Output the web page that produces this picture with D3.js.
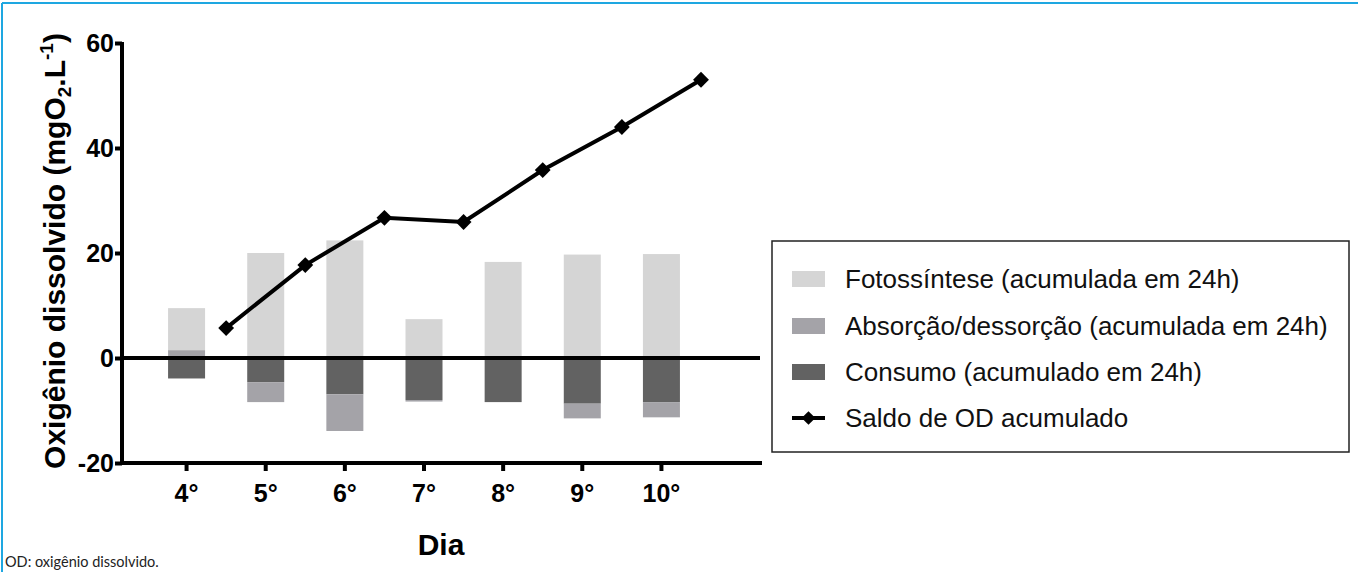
<!DOCTYPE html>
<html>
<head>
<meta charset="utf-8">
<script src="https://cdn.jsdelivr.net/npm/d3@7"></script>
<style>
body{margin:0;background:#fff;}
svg{display:block;}
</style>
</head>
<body>
<div id="chart"></div>
<script>
// dados (mgO2.L-1)
var days = ["4°","5°","6°","7°","8°","9°","10°"];
var fotossintese = [8.0, 20.0, 22.4, 7.4, 18.3, 19.7, 19.8];
var absorcao = [1.5, -3.8, -7.0, -0.3, 0, -2.8, -2.9];
var consumo = [-3.9, -4.6, -6.9, -8.0, -8.4, -8.7, -8.4];
var saldo = [5.7, 17.7, 26.7, 25.9, 35.8, 44.0, 53.0];
var yTicks = [-20, 0, 20, 40, 60];

var seriesKeys = ["consumo","absorcao","fotossintese"];
var seriesNames = {
	fotossintese:"Fotossíntese (acumulada em 24h)",
	absorcao:"Absorção/dessorção (acumulada em 24h)",
	consumo:"Consumo (acumulado em 24h)"
};
var cols = {fotossintese:"#d5d5d5", absorcao:"#a4a3a8", consumo:"#626262"};

var W = 1358, H = 572;
var svg = d3.select("#chart").append("svg").attr("width",W).attr("height",H);

// moldura azul (topo e esquerda)
svg.append("line").attr("x1",2).attr("x2",W).attr("y1",3).attr("y2",3)
	.attr("stroke","#1ea7e1").attr("stroke-width",2);
svg.append("line").attr("x1",2).attr("x2",2).attr("y1",3).attr("y2",H)
	.attr("stroke","#1ea7e1").attr("stroke-width",2);

var x = d3.scaleBand().domain(days).range([147, 701]).padding(0);
var y = d3.scaleLinear().domain([-20, 60]).range([463, 43]);
var barW = 37;

var table = days.map(function(d,i){
	return {day:d, fotossintese:fotossintese[i], absorcao:absorcao[i], consumo:consumo[i]};
});
var stacked = d3.stack().keys(seriesKeys).offset(d3.stackOffsetDiverging)(table);

var bars = svg.append("g");
stacked.forEach(function(s){
	bars.selectAll("rect."+s.key).data(s).enter().append("rect").classed(s.key,true)
		.attr("x",function(d){return x(d.data.day) + x.bandwidth()/2 - barW/2})
		.attr("width",barW)
		.attr("y",function(d){return y(Math.max(d[0],d[1]))})
		.attr("height",function(d){return Math.abs(y(d[0]) - y(d[1]))})
		.attr("fill",cols[s.key]);
});

var font = "'Liberation Sans', Arial, sans-serif";
var lw = 4;

// eixo y
var yAxis = svg.append("g").attr("transform","translate(122,0)")
	.call(d3.axisLeft(y).tickValues(yTicks).tickSize(7).tickPadding(1).tickFormat(function(d){return String(d)}));
yAxis.select(".domain").attr("stroke","#000").attr("stroke-width",lw).attr("d","M0,"+(y(60)-1)+"V"+(y(-20)+2));
yAxis.selectAll(".tick line").attr("stroke","#000").attr("stroke-width",lw);
yAxis.selectAll(".tick text").attr("font-family",font).attr("font-weight","bold")
	.attr("font-size",25).attr("fill","#000");

// eixo x
var xAxis = svg.append("g").attr("transform","translate(0,463)")
	.call(d3.axisBottom(x).tickSize(8).tickPadding(13));
xAxis.select(".domain").attr("stroke","#000").attr("stroke-width",lw).attr("d","M120,0H762");
xAxis.selectAll(".tick line").attr("stroke","#000").attr("stroke-width",lw);
xAxis.selectAll(".tick text").attr("font-family",font).attr("font-weight","bold")
	.attr("font-size",25).attr("fill","#000");

// linha do zero
svg.append("line").attr("x1",122).attr("x2",760).attr("y1",y(0)).attr("y2",y(0))
	.attr("stroke","#000").attr("stroke-width",lw);

// saldo acumulado
var lineX = function(d,i){return x(days[i]) + x.step()};
var line = d3.line().x(lineX).y(function(d){return y(d)});
svg.append("path").datum(saldo).attr("d",line).attr("fill","none")
	.attr("stroke","#000").attr("stroke-width",lw);
var diamond = d3.symbol().type(d3.symbolDiamond2).size(160);
svg.append("g").selectAll("path").data(saldo).enter().append("path")
	.attr("d",diamond)
	.attr("transform",function(d,i){return "translate("+lineX(d,i)+","+y(d)+")"})
	.attr("fill","#000");

// titulos
var yt = svg.append("text").attr("transform","translate(65,251) rotate(-90)")
	.attr("text-anchor","middle").attr("font-family",font).attr("font-weight","bold")
	.attr("font-size",30).attr("fill","#000");
yt.append("tspan").text("Oxigênio dissolvido (mgO");
yt.append("tspan").attr("font-size",19).attr("dy",6).text("2");
yt.append("tspan").attr("dy",-6).text(".L");
yt.append("tspan").attr("font-size",19).attr("dy",-12).text("-1");
yt.append("tspan").attr("dy",12).text(")");

svg.append("text").attr("x",441).attr("y",555).attr("text-anchor","middle")
	.attr("font-family",font).attr("font-weight","bold").attr("font-size",30).text("Dia");

// legenda
var leg = svg.append("g");
leg.append("rect").attr("x",772).attr("y",241).attr("width",577).attr("height",211)
	.attr("fill","#fff").attr("stroke","#222").attr("stroke-width",1.5);
var legRows = [279, 326, 372, 418];
["fotossintese","absorcao","consumo"].forEach(function(k,i){
	leg.append("rect").attr("x",792).attr("y",legRows[i]-8).attr("width",33).attr("height",16).attr("fill",cols[k]);
	leg.append("text").attr("x",845).attr("y",legRows[i]).attr("dy","0.35em")
		.attr("font-family",font).attr("font-size",26).attr("fill","#111").text(seriesNames[k]);
});
leg.append("line").attr("x1",792).attr("x2",825).attr("y1",legRows[3]).attr("y2",legRows[3])
	.attr("stroke","#000").attr("stroke-width",lw);
leg.append("path").attr("d",d3.symbol().type(d3.symbolDiamond2).size(120))
	.attr("transform","translate(808.5,"+legRows[3]+")").attr("fill","#000");
leg.append("text").attr("x",845).attr("y",legRows[3]).attr("dy","0.35em")
	.attr("font-family",font).attr("font-size",26).attr("fill","#111").text("Saldo de OD acumulado");

// nota
svg.append("text").attr("x",5).attr("y",567).attr("font-family","Lato, 'Open Sans', sans-serif")
	.attr("font-size",14.5).attr("fill","#222").text("OD: oxigênio dissolvido.");
</script>
</body>
</html>
